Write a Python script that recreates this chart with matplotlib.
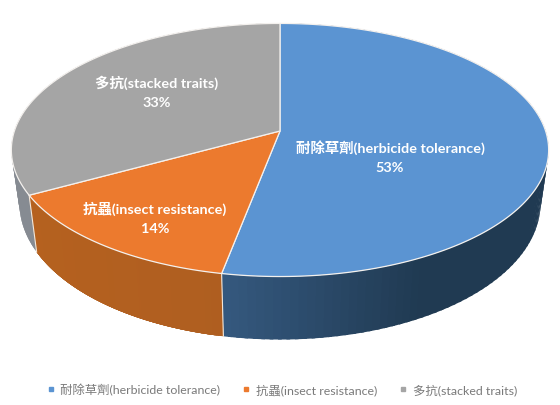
import numpy as np
import matplotlib.pyplot as plt
from matplotlib.colors import to_rgb
from matplotlib.lines import Line2D

plt.rcParams['font.family'] = ['Lato', 'Noto Sans CJK TC', 'DejaVu Sans']

# 数据
labels = ['耐除草劑(herbicide tolerance)', '抗蟲(insect resistance)', '多抗(stacked traits)']
shares = [53, 14, 33]
pct_labels = ['53%', '14%', '33%']

top_colors = ['#5b94d2', '#ec7a2e', '#a5a5a5']
side_left = ['#35597f', '#b5611f', '#868b92']
side_right = ['#203a52', '#a55a22', '#7a7f86']
legend_colors = ['#5b94d2', '#ec7a2e', '#a5a5a5']

# 饼图的透视参数 (像素)
cx, cy = 280, 132
A, B, k = 265.6, 123.7, 0.15
label_pos = [(390, 158), (155, 219), (157, 93)]


def top_rim(theta):
    u, v = np.sin(theta), np.cos(theta)
    w = 1 + k * v
    return cx + A * u / w, cy - B * v / w


def bottom_rim(theta):
    x, y = top_rim(theta)
    v = np.cos(theta)
    return cx + (x - cx) * 0.97, y + 51 - 12 * v


def blend(c1, c2, t):
    c1, c2 = np.array(to_rgb(c1)), np.array(to_rgb(c2))
    return tuple(c1 + (c2 - c1) * t)


fig = plt.figure(figsize=(5.6, 4.06), dpi=100)
ax = fig.add_axes([0, 0, 1, 1])
ax.set_xlim(0, 560)
ax.set_ylim(406, 0)
ax.axis('off')

edges = np.concatenate([[0], np.cumsum(shares)]) / np.sum(shares) * 2 * np.pi

# 侧面
for i in range(len(shares)):
    t = np.linspace(edges[i], edges[i + 1], 121)
    for j in range(len(t) - 1):
        # 每段稍微重叠，避免出现竖条纹
        seg = np.linspace(t[j], min(t[j] + 0.04, edges[i + 1]), 5)
        x1, y1 = top_rim(seg)
        x2, y2 = bottom_rim(seg)
        # 从左到右渐变
        f = np.clip((np.mean(x1) - 20) / 520, 0, 1)
        if i == 0:
            f = np.clip((np.mean(x1) - 220) / 200, 0, 1)
        color = blend(side_left[i], side_right[i], f)
        ax.fill(np.r_[x1, x2[::-1]], np.r_[y1, y2[::-1]], color=color, lw=0, zorder=1)
    # 前面的分界线
    for e in (edges[i],):
        if np.cos(e) < 0:
            x1, y1 = top_rim(e)
            x2, y2 = bottom_rim(e)
            ax.plot([x1, x2], [y1, y2], color='#f3e6d8', lw=0.8, zorder=2)

# 顶面
for i in range(len(shares)):
    t = np.linspace(edges[i], edges[i + 1], 200)
    x, y = top_rim(t)
    ax.fill(np.r_[cx, x], np.r_[cy, y], facecolor=top_colors[i], edgecolor='#f4f1ee', lw=0.9, zorder=3)

# 标签
for i in range(len(shares)):
    ax.text(label_pos[i][0], label_pos[i][1] - 10, labels[i], color='white', fontsize=10.4,
            fontweight='bold', ha='center', va='center', zorder=4)
    ax.text(label_pos[i][0], label_pos[i][1] + 10, pct_labels[i], color='white', fontsize=10.4,
            fontweight='bold', ha='center', va='center', zorder=4)

# 图例
handles = [Line2D([], [], ls='', marker='s', ms=3.2, color=c) for c in legend_colors]
ax.legend(handles, labels, loc='center', bbox_to_anchor=(281 / 560, 1 - 390 / 406), ncol=3,
          frameon=False, fontsize=8.9, labelcolor='#7a7a7a', handlelength=1.0,
          handletextpad=0.3, columnspacing=1.6)

plt.savefig('out.png', dpi=100)
